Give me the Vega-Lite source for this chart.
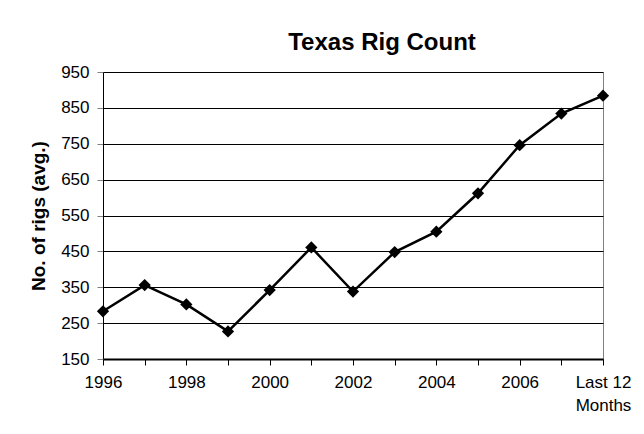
{
  "$schema": "https://vega.github.io/schema/vega-lite/v6.json",
  "width": 500,
  "height": 287,
  "autosize": {"type": "none"},
  "padding": {"left": 103, "top": 72, "right": 41, "bottom": 75},
  "background": "white",
  "title": {
    "text": "Texas Rig Count",
    "font": "Liberation Sans",
    "fontSize": 24,
    "fontWeight": "bold",
    "color": "black",
    "anchor": "middle",
    "dx": 29,
    "offset": 8
  },
  "config": {
    "font": "Liberation Sans",
    "view": {"stroke": "#808080", "strokeWidth": 1}
  },
  "data": {
    "values": [
      {"period": "1996", "rigs": 283},
      {"period": "1997", "rigs": 356},
      {"period": "1998", "rigs": 302},
      {"period": "1999", "rigs": 227},
      {"period": "2000", "rigs": 342},
      {"period": "2001", "rigs": 461},
      {"period": "2002", "rigs": 338},
      {"period": "2003", "rigs": 448},
      {"period": "2004", "rigs": 505},
      {"period": "2005", "rigs": 612},
      {"period": "2006", "rigs": 746},
      {"period": "2007", "rigs": 834},
      {"period": "Last 12 Months", "rigs": 884}
    ]
  },
  "encoding": {
    "x": {
      "field": "period",
      "type": "ordinal",
      "sort": null,
      "scale": {"type": "point", "padding": 0},
      "axis": {
        "title": null,
        "labelAngle": 0,
        "labelFont": "Liberation Sans",
        "labelFontSize": 17,
        "labelColor": "black",
        "labelPadding": 9,
        "labelExpr": "datum.value == 'Last 12 Months' ? ['Last 12', 'Months'] : (indexof(['1996','1998','2000','2002','2004','2006'], datum.value) >= 0 ? datum.value : '')",
        "labelLineHeight": 23,
        "labelOverlap": false,
        "tickSize": 6,
        "tickColor": "black",
        "tickWidth": 1,
        "domainColor": "black",
        "domainWidth": 2,
        "grid": false
      }
    },
    "y": {
      "field": "rigs",
      "type": "quantitative",
      "scale": {"domain": [150, 950], "nice": false, "zero": false},
      "axis": {
        "title": "No. of rigs (avg.)",
        "titleFont": "Liberation Sans",
        "titleFontSize": 19,
        "titleFontWeight": "bold",
        "titleColor": "black",
        "titlePadding": 12,
        "values": [150, 250, 350, 450, 550, 650, 750, 850, 950],
        "labelFont": "Liberation Sans",
        "labelFontSize": 17,
        "labelColor": "black",
        "labelPadding": 8,
        "tickSize": 6,
        "tickColor": "#808080",
        "domainColor": "black",
        "domainWidth": 1,
        "grid": true,
        "gridColor": "black",
        "gridWidth": 1,
        "gridOpacity": 1
      }
    }
  },
  "layer": [
    {"mark": {"type": "line", "color": "black", "strokeWidth": 2.5}},
    {"mark": {"type": "point", "shape": "diamond", "filled": true, "color": "black", "opacity": 1, "size": 150}}
  ]
}
